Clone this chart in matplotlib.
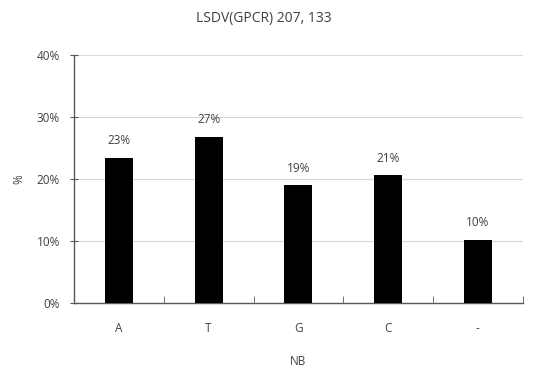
import matplotlib
matplotlib.use("Agg")
import matplotlib.pyplot as plt
from matplotlib.ticker import PercentFormatter, FixedLocator

plt.rcParams['font.family'] = ['Open Sans', 'DejaVu Sans']

categories = ["A", "T", "G", "C", "-"]
shares = [0.234, 0.268, 0.190, 0.206, 0.102]
y_ticks = [0.0, 0.1, 0.2, 0.3, 0.4]
title = "LSDV(GPCR) 207, 133"

text_color = "#404040"

fig = plt.figure(figsize=(5.44, 3.73), dpi=100)
ax = fig.add_axes([0.136, 0.1877, 0.825, 0.6648])

x = list(range(len(categories)))
bars = ax.bar(x, shares, width=0.31, color="black", zorder=3)

for xi, v in zip(x, shares):
    ax.text(xi, v + 0.017, f"{v*100:.0f}%", ha="center", va="bottom",
            fontsize=8.5, color=text_color)

ax.set_xlim(-0.5, len(categories) - 0.5)
ax.set_ylim(0, 0.4)
ax.set_yticks(y_ticks)
ax.yaxis.set_major_formatter(PercentFormatter(1.0, decimals=0))
ax.set_xticks(x)
ax.set_xticklabels(categories)
ax.xaxis.set_minor_locator(FixedLocator([i + 0.5 for i in range(-1, len(categories))]))

ax.grid(axis="y", color="#d9d9d9", linewidth=0.8, zorder=0)
for side in ("top", "right"):
    ax.spines[side].set_visible(False)
for side in ("left", "bottom"):
    ax.spines[side].set_color("#595959")
    ax.spines[side].set_linewidth(1.0)

ax.tick_params(axis="y", direction="inout", length=6, color="#595959",
               labelsize=8.5, labelcolor=text_color, pad=7)
ax.tick_params(axis="x", which="major", length=0, labelsize=8.5,
               labelcolor=text_color, pad=14)
ax.tick_params(axis="x", which="minor", direction="in", length=5,
               color="#595959")

ax.set_xlabel("NB", fontsize=8.5, color=text_color, labelpad=14)
ax.set_ylabel("%", fontsize=8.5, color=text_color, labelpad=8)
fig.suptitle(title, x=0.485, y=0.97, fontsize=10, color=text_color)

fig.savefig("out.png", dpi=100)
